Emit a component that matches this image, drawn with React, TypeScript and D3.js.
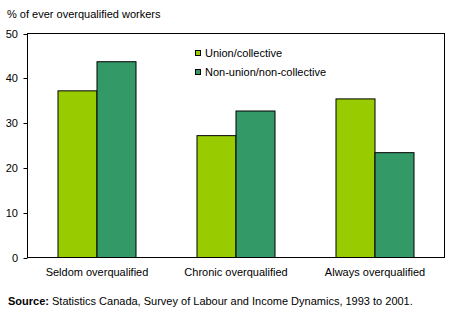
import React from "react";
import * as d3 from "d3";

const categories = ["Seldom overqualified", "Chronic overqualified", "Always overqualified"];
const seriesNames = ["Union/collective", "Non-union/non-collective"];
const unionValues = [37.2, 27.2, 35.4];
const nonUnionValues = [43.7, 32.7, 23.4];
const yTicks = [0, 10, 20, 30, 40, 50];
const colors = ["#99CC00", "#339966"];

const W = 449;
const H = 322;
const plot = { left: 27.5, top: 33.5, right: 444.5, bottom: 257.5 };
const font = "'Liberation Sans', Arial, sans-serif";

export default function App() {
  const x = d3
    .scaleBand<string>()
    .domain(categories)
    .range([plot.left, plot.right])
    .paddingInner(0)
    .paddingOuter(0);
  const y = d3.scaleLinear().domain([0, 50]).range([plot.bottom, plot.top]);
  const groupW = 78;
  const x1 = d3.scaleBand<number>().domain([0, 1]).range([0, groupW]).padding(0);
  const series = [unionValues, nonUnionValues];

  return (
    <svg
      width={W}
      height={H}
      style={{ position: "absolute", left: 0, top: 0, background: "#fff" }}
      fontFamily={font}
    >
      <text x={7} y={18} fontSize={11} fill="#000">
        % of ever overqualified workers
      </text>

      {categories.map((c, i) => {
        const gx = (x(c) as number) + (x.bandwidth() - groupW) / 2;
        return (
          <g key={c}>
            {series.map((vals, s) => (
              <rect
                key={s}
                x={gx + (x1(s) as number)}
                y={y(vals[i])}
                width={x1.bandwidth()}
                height={plot.bottom - y(vals[i])}
                fill={colors[s]}
                stroke="#000"
                strokeWidth={1}
              />
            ))}
            <text
              x={(x(c) as number) + x.bandwidth() / 2}
              y={276}
              fontSize={11}
              textAnchor="middle"
              fill="#000"
            >
              {c}
            </text>
          </g>
        );
      })}

      <rect
        x={plot.left}
        y={plot.top}
        width={plot.right - plot.left}
        height={plot.bottom - plot.top}
        fill="none"
        stroke="#000"
        strokeWidth={1}
      />

      {yTicks.map((t) => (
        <g key={t}>
          <line x1={plot.left - 4} x2={plot.left} y1={Math.round(y(t)) + 0.5} y2={Math.round(y(t)) + 0.5} stroke="#000" />
          <text x={18} y={y(t) + 4} fontSize={11} textAnchor="end" fill="#000">
            {t}
          </text>
        </g>
      ))}

      {seriesNames.map((n, s) => (
        <g key={n}>
          <rect x={195.5} y={50.5 + s * 19} width={5} height={5} fill={colors[s]} stroke="#000" strokeWidth={1} />
          <text x={205} y={57} fontSize={11} fill="#000" dy={s * 19}>
            {n}
          </text>
        </g>
      ))}

      <text x={8} y={305} fontSize={11} fill="#000">
        <tspan fontWeight="bold">Source:</tspan> Statistics Canada, Survey of Labour and Income Dynamics, 1993 to 2001.
      </text>
    </svg>
  );
}
